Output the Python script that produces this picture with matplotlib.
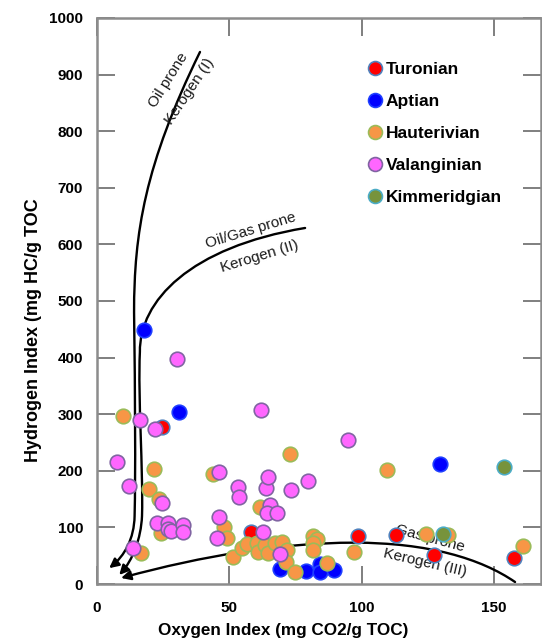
import matplotlib
matplotlib.use("Agg")
import matplotlib.pyplot as plt
from matplotlib.lines import Line2D
from matplotlib.path import Path
from matplotlib.patches import FancyArrowPatch

# sample data (Oxygen Index, Hydrogen Index)
turonian_oi = [24.4, 58.3, 98.7, 113.0, 127.4, 157.6]
turonian_hi = [277, 92, 84, 87, 51, 46]

aptian_oi = [17.6, 31.0, 129.6, 69.0, 79.0, 84.4, 84.4, 89.5]
aptian_hi = [448, 304, 212, 26, 23, 36, 21, 25]

hauterivian_oi = [9.9, 21.5, 19.8, 23.4, 24.2, 16.5, 43.9, 48.0, 49.0, 61.6, 72.8,
                  51.5, 54.7, 56.5, 60.3, 60.7, 63.5, 64.7, 67.2, 69.8, 71.6, 71.2,
                  74.8, 81.5, 83.0, 81.7, 81.7, 86.8, 96.9, 109.7, 124.3, 132.7, 160.8]
hauterivian_hi = [297, 204, 167, 151, 90, 55, 194, 101, 82, 136, 230,
                  47, 63, 70, 72, 57, 69, 54, 72, 75, 60, 38,
                  22, 84, 80, 72, 60, 37, 57, 201, 88, 87, 67]

valanginian_oi = [7.4, 12.1, 13.7, 16.2, 21.9, 22.8, 24.7, 26.9, 26.9, 27.8, 32.4,
                  32.6, 30.3, 45.4, 46.2, 46.2, 53.4, 53.6, 62.0, 62.7, 63.7, 64.7,
                  65.4, 64.2, 67.9, 69.1, 73.4, 79.8, 94.7]
valanginian_hi = [216, 173, 64, 290, 274, 108, 143, 108, 98, 94, 104,
                  91, 397, 82, 119, 198, 172, 153, 307, 91, 169, 189,
                  139, 126, 126, 53, 166, 182, 254]

kimmeridgian_oi = [153.8, 130.6]
kimmeridgian_hi = [207, 88]

# kerogen type guide curves: start point followed by bezier control points
type1_pts = [(38.9, 940), (18, 740), (14, 620), (14, 480),
             (14.4, 330), (14.6, 200), (14.2, 120),
             (14.0, 80), (10.5, 50), (4.6, 28)]
type2_pts = [(78.6, 629), (35, 595), (16, 500), (16.2, 410),
             (15.4, 330), (17.5, 200), (17.0, 120),
             (16.6, 80), (13.5, 42), (8.4, 16)]
type3_pts = [(157.9, 3.5), (145, 45), (125, 73), (97, 73),
             (70, 73), (40, 50), (9.1, 10.6)]

series = [
    ("Turonian", turonian_oi, turonian_hi, "#ff0000", "#4f81bd"),
    ("Aptian", aptian_oi, aptian_hi, "#0000ff", "#1f3fff"),
    ("Hauterivian", hauterivian_oi, hauterivian_hi, "#f79646", "#9bbb59"),
    ("Valanginian", valanginian_oi, valanginian_hi, "#ff66ff", "#8064a2"),
    ("Kimmeridgian", kimmeridgian_oi, kimmeridgian_hi, "#77933c", "#4bacc6"),
]

fig = plt.figure(figsize=(5.42, 6.43), dpi=100)
ax = fig.add_axes([97 / 542, 59 / 643, 444 / 542, 566 / 643])

# guide curves with arrows at the low end
for pts in [type1_pts, type2_pts, type3_pts]:
    codes = [Path.MOVETO] + [Path.CURVE4] * (len(pts) - 1)
    arrow = FancyArrowPatch(path=Path(pts, codes), arrowstyle="-|>", color="black",
                            lw=1.7, mutation_scale=14, zorder=2)
    ax.add_patch(arrow)

lab = dict(fontsize=11, family="Liberation Sans", color="#1a1a1a",
           ha="center", va="center", rotation_mode="anchor", zorder=2)
ax.text(26.8, 890, "Oil prone", rotation=58, **lab)
ax.text(35.1, 871, "Kerogen (I)", rotation=56, **lab)
ax.text(58.2, 625, "Oil/Gas prone", rotation=17, **lab)
ax.text(61.4, 579, "Kerogen (II)", rotation=17, **lab)
ax.text(125.8, 80, "Gas prone", rotation=-15, **lab)
ax.text(123.9, 38, "Kerogen (III)", rotation=-13, **lab)

handles = []
for name, xs, ys, fc, ec in series:
    ax.scatter(xs, ys, s=110, c=fc, edgecolors=ec, linewidths=1.2, zorder=3)
    handles.append(Line2D([], [], ls="", marker="o", markersize=10,
                          markerfacecolor=fc, markeredgecolor=ec,
                          markeredgewidth=1.2, label=name))

leg = ax.legend(handles=handles, loc="upper left", bbox_to_anchor=(0.5865, 0.9346),
                frameon=False, handletextpad=0.05, labelspacing=0.97,
                handlelength=1.2, borderaxespad=0,
                prop=dict(family="Liberation Sans", weight="bold", size=12.5))

ax.set_xlim(0, 167.7)
ax.set_ylim(0, 1000)
ax.set_xticks([0, 50, 100, 150])
ax.set_yticks(range(0, 1001, 100))

for sp in ax.spines.values():
    sp.set_color("#8c8c8c")
    sp.set_linewidth(1.8)

ax.tick_params(direction="in", length=13, width=1.4, color="#7f7f7f",
               top=True, right=True)
ax.tick_params(axis="x", pad=12)
ax.tick_params(axis="y", pad=10)
for t in ax.get_xticklabels() + ax.get_yticklabels():
    t.set_fontfamily("Liberation Sans")
    t.set_fontweight("bold")
    t.set_fontsize(11)

fig.text(283 / 542, 1 - 631 / 643, "Oxygen Index (mg CO2/g TOC)", ha="center", va="center",
         family="Liberation Sans", weight="bold", fontsize=12.3)
fig.text(34 / 542, 1 - 330 / 643, "Hydrogen Index (mg HC/g TOC", ha="center", va="center",
         rotation=90, family="Liberation Sans", weight="bold", fontsize=13)

fig.savefig("out.png", dpi=100)
